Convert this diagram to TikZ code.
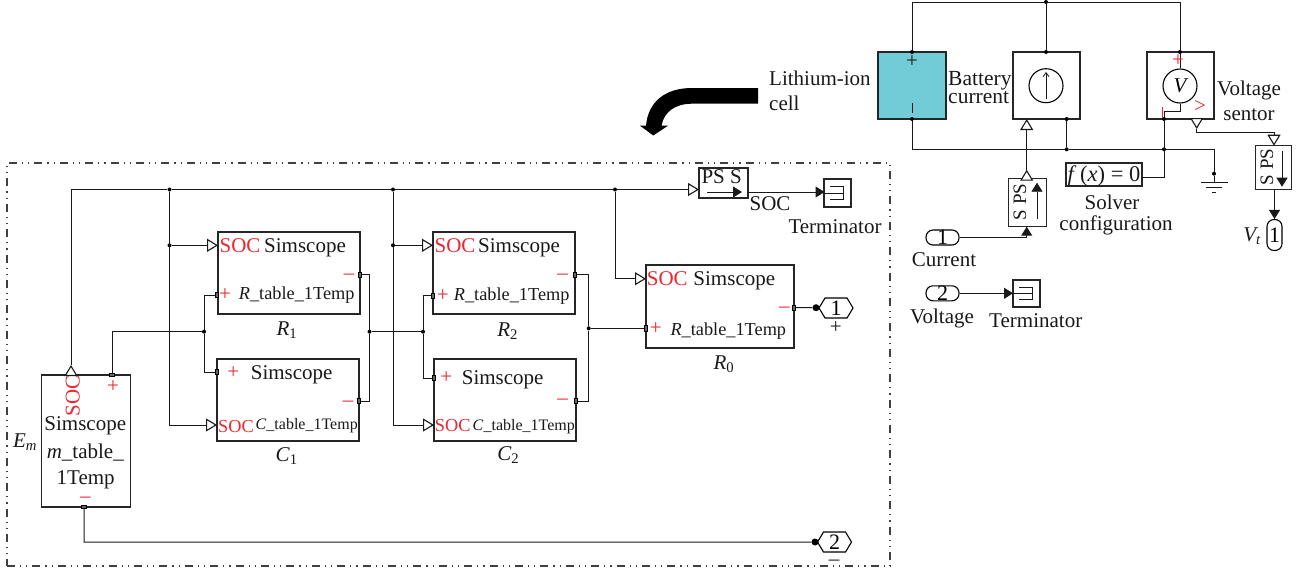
\documentclass[tikz,border=0pt]{standalone}
\usepackage{fontspec}
\setmainfont{Liberation Serif}
\usetikzlibrary{arrows.meta,shapes.symbols}
\definecolor{socred}{RGB}{237,38,48}
\definecolor{celltop}{RGB}{113,204,216}
\tikzset{
    %Define standard arrow tips
    tipopen/.style={-{Triangle[open,fill=white,length=11pt,width=13pt,line width=1.1pt]}},
    tipfull/.style={-{Triangle[length=9pt,width=11pt]}},
    % Define wire style
    wire/.style={draw=black!90,line width=1pt},
    thinline/.style={draw=black!90,line width=0.8pt},
    % Define style for boxes
    block/.style={rectangle,draw=black!85,line width=1.2pt,inner sep=0pt},
    pill/.style={rectangle,rounded corners=7pt,draw=black,line width=1.1pt,inner sep=0pt,font=\fontsize{22}{24}\selectfont},
    outhex/.style={signal,signal to=west and east,signal pointer angle=118,draw=black,line width=1.1pt,inner sep=0pt,
           minimum width=34pt,minimum height=20pt,font=\fontsize{22}{24}\selectfont},
    port/.style={rectangle,draw=black,fill=black!60,line width=0.7pt,inner sep=0pt,minimum width=2.5pt,minimum height=5.5pt},
    portv/.style={rectangle,draw=black,fill=black!60,line width=0.7pt,inner sep=0pt,minimum width=5.5pt,minimum height=2.5pt},
    joint/.style={circle,fill=black,inner sep=0pt,minimum size=4pt},
    bigjoint/.style={circle,fill=black,inner sep=0pt,minimum size=7pt},
    % Define text styles
    lab/.style={anchor=base,inner sep=0pt,text=black!90,font=\fontsize{21}{22}\selectfont},
    labm/.style={lab,font=\fontsize{18.3}{20}\selectfont},
    labs/.style={lab,font=\fontsize{16}{18}\selectfont},
    rlab/.style={lab,text=socred},
    rlabm/.style={labm,text=socred},
    frameline/.style={draw=black!75,line width=1.1pt,dash pattern=on 8pt off 5pt on 1.2pt off 5pt on 1.2pt off 5pt}
}
\begin{document}
\begin{tikzpicture}[x=1pt,y=-1pt]
  \useasboundingbox (0,0) rectangle (1300,571);
  % cell subsystem
  \node[frameline,rectangle,minimum width=883pt,minimum height=403pt,inner sep=0pt] (cell) at (448.5,364.5) {};
  \node[block,minimum width=142pt,minimum height=82pt] (r1) at (289,273) {};
  \node[block,minimum width=142pt,minimum height=82pt] (c1) at (288,400) {};
  \node[block,minimum width=142pt,minimum height=82pt] (r2) at (504,273) {};
  \node[block,minimum width=142pt,minimum height=82pt] (c2) at (505,400) {};
  \node[block,minimum width=148pt,minimum height=83pt] (r0) at (720,306.5) {};
  \node[block,minimum width=89pt,minimum height=132pt] (em) at (86.3,441) {};
  \node[block,minimum width=49pt,minimum height=30pt] (pss) at (723.5,183) {};
  \node[block,minimum width=27pt,minimum height=28pt] (term1) at (837.5,193) {};
  \node[outhex] (out1) at (836,308) {1};
  \node[outhex] (out2) at (834.5,542) {2};
  % ports of the blocks
  \foreach \name/\x/\y in {pr1p/217/295,pr1m/360/274.7,pc1p/217/372,pc1m/359/401,pr2p/433/295.7,pr2m/575/274.7,
                           pc2p/434/378,pc2m/576/401,pr0p/646/328.3,pr0m/794/307.7}
    \node[port] (\name) at (\x,\y) {};
  \foreach \name/\x/\y in {pemp/112/375,pemm/84/507}
    \node[portv] (\name) at (\x,\y) {};
  \foreach \name/\x/\y in {j1/169.5/189.5,j1b/169.5/245.3,j2/393/189.5,j2b/393/245.3,j3/615/189.5,j4/204/331.7,
                           j5/369.5/331.7,j6/423/331.7,j7/588.7/328.3}
    \node[joint] (\name) at (\x,\y) {};
  \node[bigjoint] (d1) at (816,307.7) {};
  \node[bigjoint] (d2) at (815,542) {};
  \coordinate (busA) at (71,189.5);
  \coordinate (emSoc) at (71,375);
  \coordinate (emTip) at (71,365);
  \coordinate (r1soc) at (218,245.3);
  \coordinate (c1soc) at (217,425);
  \coordinate (r2soc) at (433,245.3);
  \coordinate (c2soc) at (434,425);
  \coordinate (r0soc) at (646,278.7);
  \coordinate (pssIn) at (699,189.5);
  \coordinate (pssOut) at (748,192);
  \coordinate (termIn) at (824.5,192);
  % wires of the cell
  \draw[wire,tipopen] (emSoc) -- (emTip);
  \draw[wire] (emTip) -- (busA) -- (j1) -- (j2) -- (j3);
  \draw[wire,tipopen] (j3) -- (pssIn);
  \draw[wire,tipopen] (j1) |- (c1soc);
  \draw[wire,tipopen] (j1b) -- (r1soc);
  \draw[wire,tipopen] (j2) |- (c2soc);
  \draw[wire,tipopen] (j2b) -- (r2soc);
  \draw[wire,tipopen] (j3) |- (r0soc);
  \draw[wire] (pemp) |- (j4);
  \draw[wire] (pr1p) -| (j4) |- (pc1p);
  \draw[wire] (pr1m) -| (j5) |- (pc1m);
  \draw[wire] (j5) -- (j6);
  \draw[wire] (pr2p) -| (j6) |- (pc2p);
  \draw[wire] (pr2m) -| (j7) |- (pc2m);
  \draw[wire] (j7) -- (pr0p);
  \draw[wire] (pr0m) -- (d1) -- (out1);
  \draw[wire] (pemm) |- (d2) -- (out2);
  \draw[wire,tipfull] (pssOut) -- (termIn);
  % labels of the cell
  \node[rlab] (r1a) at (240,252.5) {SOC};
  \node[lab] (r1b) at (305,252.5) {Simscope};
  \node[rlab] (r1c) at (349,279) {–};
  \node[rlab] (r1d) at (225,300) {+};
  \node[labm] (r1e) at (296.7,299) {\textit{R}\_table\_1Temp};
  \node[lab] (r1f) at (287,335) {\textit{R}\textsubscript{1}};
  \node[rlab] (c1a) at (236,432.7) [font=\fontsize{18.3}{20}\selectfont] {SOC};
  \node[lab] (c1b) at (291.7,379.3) {Simscope};
  \node[rlab] (c1c) at (348,406) {–};
  \node[rlab] (c1d) at (233.3,378) {+};
  \node[labs] (c1e) at (306.7,429.3) {\textit{C}\_table\_1Temp};
  \node[lab] (c1f) at (286.7,461.7) {\textit{C}\textsubscript{1}};
  \node[rlab] (r2a) at (455,252.7) {SOC};
  \node[lab] (r2b) at (519,252.5) {Simscope};
  \node[rlab] (r2c) at (562.7,279.5) {–};
  \node[rlab] (r2d) at (442.7,301) {+};
  \node[labm] (r2e) at (511.7,300) {\textit{R}\_table\_1Temp};
  \node[lab] (r2f) at (507.7,336.7) {\textit{R}\textsubscript{2}};
  \node[rlab] (c2a) at (452.7,431.7) [font=\fontsize{18.3}{20}\selectfont] {SOC};
  \node[lab] (c2b) at (502.7,384.3) {Simscope};
  \node[rlab] (c2c) at (562.7,404.8) {–};
  \node[rlab] (c2d) at (446.3,383.5) {+};
  \node[labs] (c2e) at (523.8,430) {\textit{C}\_table\_1Temp};
  \node[lab] (c2f) at (508.3,460.7) {\textit{C}\textsubscript{2}};
  \node[rlab] (r0a) at (667.3,285.7) {SOC};
  \node[lab] (r0b) at (734.3,285.7) {Simscope};
  \node[rlab] (r0c) at (784.3,312.8) {–};
  \node[rlab] (r0d) at (655.7,334) {+};
  \node[labm] (r0e) at (728.3,335) {\textit{R}\_table\_1Temp};
  \node[lab] (r0f) at (724,369.3) {\textit{R}\textsubscript{0}};
  \node[rlab,anchor=center,rotate=90] (ema) at (72.7,396) {SOC};
  \node[rlab] (emb) at (113,392.5) {+};
  \node[lab] (emc) at (85.3,430) {Simscope};
  \node[lab] (emd) at (85.3,458.3) {\textit{m}\_table\_};
  \node[lab] (eme) at (85.7,484.3) {1Temp};
  \node[rlab] (emf) at (85.3,502.8) {–};
  \node[lab] (emg) at (25,447.3) {\textit{E\textsubscript{m}}};
  \node[lab] (outp) at (835.7,333.5) {+};
  \node[lab] (outm) at (834,565.5) {–};
  \node[lab] (pssa) at (721.7,183.3) {PS S};
  \node[lab] (pssb) at (770,210) {SOC};
  \node[lab] (terma) at (835,233.3) {Terminator};
  \draw[thinline,tipfull] (707,192) -- (742,192);
  % thick arrow from the cell
  \fill[black] (758,88) -- (692,88) .. controls (665,88) and (648,102) .. (646,125.7) -- (640,125.7)
     -- (653.3,135.5) -- (668,125.7) -- (661.5,125.7) .. controls (664,112) and (675,103.7) .. (692,103.7)
     -- (758,103.7) -- cycle;
  % measurement circuit
  \node[block,fill=celltop,minimum width=68pt,minimum height=67pt] (batt) at (912,85.5) {};
  \node[block,minimum width=67pt,minimum height=67pt] (isrc) at (1046.5,85.5) {};
  \node[block,minimum width=67pt,minimum height=67pt] (vsrc) at (1180.5,85.5) {};
  \node[circle,draw=black,line width=1.1pt,minimum size=34pt,inner sep=0pt] (icirc) at (1046,85.7) {};
  \node[circle,draw=black,line width=1.1pt,minimum size=34pt,inner sep=0pt,font=\fontsize{21}{22}\selectfont\itshape] (vcirc) at (1180,86) {V};
  \node[block,minimum width=76pt,minimum height=23pt] (solver) at (1104,174.5) {};
  \node[block,minimum width=37.5pt,minimum height=48.5pt] (spsa) at (1027.4,202.5) {};
  \node[block,minimum width=35.5pt,minimum height=44pt] (spsb) at (1273.4,167.7) {};
  \node[block,minimum width=27pt,minimum height=27pt] (term2) at (1026.5,293.5) {};
  \node[pill,minimum width=33pt,minimum height=15pt] (inA) at (942.5,237.5) {1};
  \node[pill,minimum width=33pt,minimum height=15pt] (inB) at (942.5,293.3) {2};
  \node[pill,minimum width=15pt,minimum height=31pt] (outV) at (1274.5,235) {1};
  \foreach \name/\x/\y in {bp/912/52,bm/912/119,ip/1046/52,im/1066.7/119,vp/1180/52,vm/1164/119,
                           jt/1046/2,jb1/1066.7/149.3,jb2/1164/149.3,gnd/1214/173.7}
    \node[joint] (\name) at (\x,\y) {};
  \coordinate (vturn) at (1164,111);
  \coordinate (solvOut) at (1142,177);
  \coordinate (iTip) at (1026.7,119);
  \coordinate (iBase) at (1026.7,128.7);
  \coordinate (aTip) at (1026.7,169.7);
  \coordinate (aBase) at (1026.7,178.3);
  \coordinate (aIn) at (1026.7,226.7);
  \coordinate (vBase) at (1196.7,119);
  \coordinate (vTip) at (1196.7,129);
  \coordinate (sBase) at (1274,136);
  \coordinate (sTip) at (1274,145.7);
  \coordinate (vBend) at (1196.7,132.7);
  \coordinate (termBIn) at (1013,293.3);
  \draw[wire] (bp) |- (jt) -| (vp);
  \draw[wire] (jt) -- (ip);
  \draw[wire] (bm) |- (jb1) -- (jb2) -| (gnd);
  \draw[wire] (jb1) -- (im);
  \draw[wire] (vm) |- (solvOut);
  \draw[wire] (vp) -- (vcirc);
  \draw[wire] (vcirc) |- (vturn) -- (vm);
  \draw[wire,tipopen] (iBase) -- (iTip);
  \draw[wire] (aTip) -- (iBase);
  \draw[wire,tipopen] (aBase) -- (aTip);
  \draw[wire,tipfull] (inA) -| (aIn);
  \draw[wire,tipfull] (inB) -- (termBIn);
  \draw[wire,tipopen] (vBase) -- (vTip);
  \draw[wire] (vTip) -- (vBend) -| (sBase);
  \draw[wire,tipopen] (sBase) -- (sTip);
  \draw[wire,tipfull] (spsb.south-|outV) -- (outV);
  \draw[thinline,tipfull] (1037,219) -- (1037,182.7);
  \draw[thinline,tipfull] (1282,151) -- (1282,186.7);
  \draw[thinline,-{Straight Barb[length=4pt,width=6pt]}] (1046,99) -- (1046,72);
  % terminator and ground signs
  \foreach \t in {term1,term2} {
    \draw[thinline] ([shift={(7,-6.3)}]\t.west) -- ([shift={(20,-6.3)}]\t.west)
       -- ([shift={(20,6.3)}]\t.west) -- ([shift={(7,6.3)}]\t.west);
    \draw[thinline] (\t.west) -- ([shift={(20,0)}]\t.west);
  }
  \foreach \d/\w in {9/13.5,14/8,19/2}
    \draw[thinline] ([shift={(-\w,\d)}]gnd.center) -- ([shift={(\w,\d)}]gnd.center);
  \draw[wire] (gnd) -- ([shift={(0,9)}]gnd.center);
  % labels of the measurement circuit
  \node[lab,anchor=base west] (lia) at (769,85) {Lithium-ion};
  \node[lab,anchor=base west] (lib) at (769,110) {cell};
  \node[lab,anchor=west,align=left,font=\fontsize{21.5}{16.7}\selectfont] (bca) at (948,87.5) {Battery\\current};
  \node[lab] (vsa) at (1249,95) {Voltage};
  \node[lab] (vsb) at (1249,120) {sentor};
  \node[lab] (bpl) at (912,67) {+};
  \draw[thinline] (912.5,103) -- (912.5,113);
  \node[rlab] (vpl) at (1178,66.5) {+};
  \node[rlab] (vgt) at (1200,112.5) {>};
  \draw[draw=socred,line width=1.1pt] (1162.7,107) -- (1162.7,118);
  \node[lab,font=\fontsize{22.5}{24}\selectfont] (sola) at (1104,181) {\textit{f}\,(\textit{x}) = 0};
  \node[lab] (solb) at (1112,209.3) {Solver};
  \node[lab] (solc) at (1116,230) {configuration};
  \node[lab,anchor=center,rotate=90,font=\fontsize{19}{21}\selectfont] (spsat) at (1020,202) {S PS};
  \node[lab,anchor=center,rotate=90,font=\fontsize{19}{21}\selectfont] (spsbt) at (1267,167) {S PS};
  \node[lab] (cura) at (944,266) {Current};
  \node[lab] (vola) at (942,323.3) {Voltage};
  \node[lab] (termb) at (1035.7,327.7) {Terminator};
  \node[lab] (vt) at (1252,241.3) {\textit{V\textsubscript{t}}};
\end{tikzpicture}
\end{document}
